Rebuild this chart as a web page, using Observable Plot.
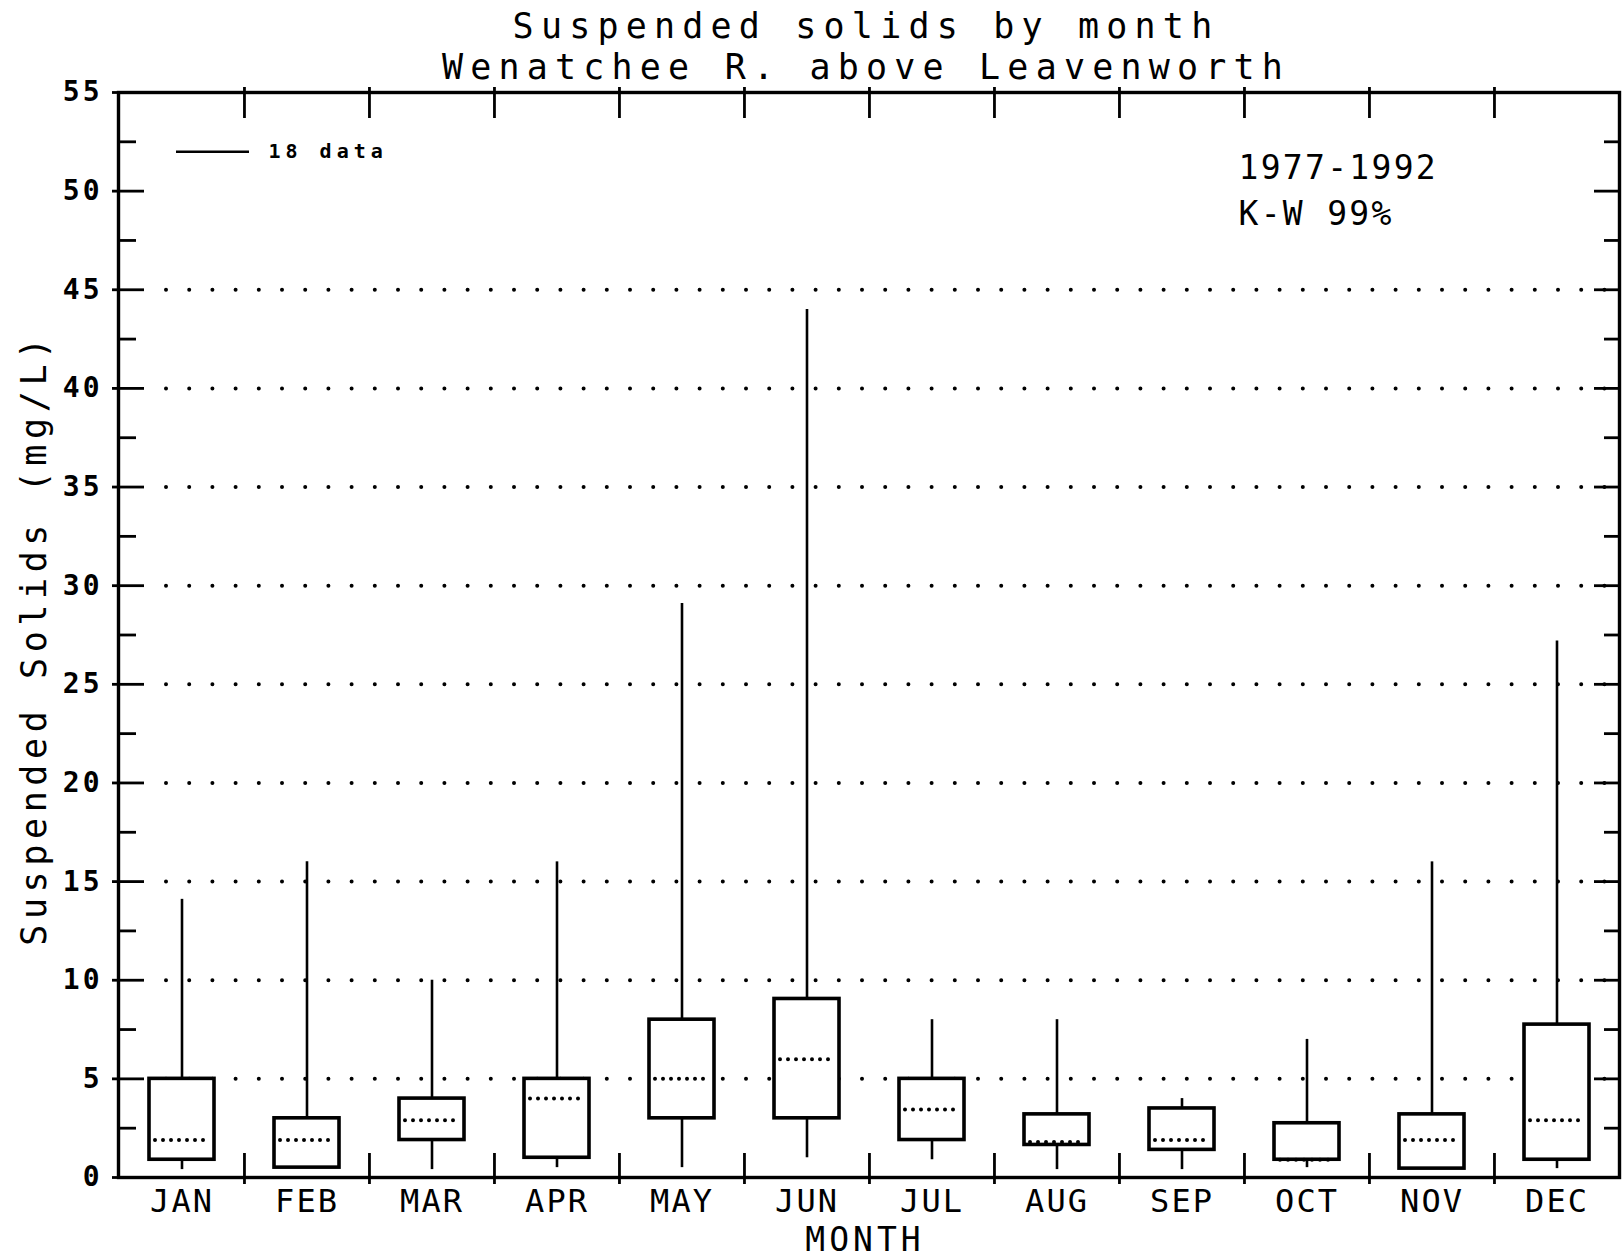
<!DOCTYPE html>
<html>
<head>
<meta charset="utf-8">
<script src="https://cdn.jsdelivr.net/npm/d3@7"></script>
<script src="https://cdn.jsdelivr.net/npm/@observablehq/plot@0.6"></script>
<style>
  html, body { margin: 0; padding: 0; background: #fff; }
</style>
</head>
<body>
<div id="chart"></div>
<script>
// ---- data ----
const months = ["JAN","FEB","MAR","APR","MAY","JUN","JUL","AUG","SEP","OCT","NOV","DEC"];
const whiskerMax = [14.1, 16, 10, 16, 29.1, 44, 8, 8, 4, 7, 16, 27.2];
const q3 =         [5, 3, 4, 5, 8, 9.05, 5, 3.2, 3.5, 2.75, 3.2, 7.75];
const medians =    [1.9, 1.9, 2.9, 4, 5, 6, 3.45, 1.8, 1.9, 0.9, 1.9, 2.9];
const q1 =         [0.9, 0.5, 1.9, 1.0, 3.0, 3.0, 1.9, 1.65, 1.4, 0.9, 0.45, 0.9];
const whiskerMin = [0.4, 0.5, 0.4, 0.5, 0.5, 1.0, 0.9, 0.4, 0.4, 0.5, 0.45, 0.45];
const majorTicks = [0, 5, 10, 15, 20, 25, 30, 35, 40, 45, 50, 55];
const minorTicks = [2.5, 7.5, 12.5, 17.5, 22.5, 27.5, 32.5, 37.5, 42.5, 47.5, 52.5];
const gridValues = [5, 10, 15, 20, 25, 30, 35, 40, 45];
const titleLines = ["Suspended solids by month", "Wenatchee R. above Leavenworth"];
const yLabel = "Suspended Solids (mg/L)";
const xLabel = "MONTH";
const legendLabel = "18 data";
const legendLevel = [52];
const notes = ["1977-1992", "K-W 99%"];

const data = months.map((m, i) => ({
  month: m, max: whiskerMax[i], q3: q3[i], median: medians[i], q1: q1[i], min: whiskerMin[i]
}));

// ---- layout ----
const W = 1622, H = 1259, mL = 118, mR = 3, mT = 92, mB = 82;
const plotW = W - mL - mR, plotH = H - mT - mB;
const bw = plotW / months.length;
const font = "'DejaVu Sans Mono', monospace";

const chart = Plot.plot({
  width: W, height: H,
  marginLeft: mL, marginRight: mR, marginTop: mT, marginBottom: mB,
  style: {fontFamily: font, background: "#fff", color: "#000"},
  x: {type: "band", domain: months, padding: 0},
  y: {domain: [0, 55]},
  marks: [
    // dotted gridlines
    Plot.ruleY(gridValues, {stroke: "#000", strokeWidth: 4, strokeLinecap: "round", strokeDasharray: "0 23.2", insetLeft: 48}),
    // whiskers
    Plot.ruleX(data, {x: "month", y1: "min", y2: "q1", stroke: "#000", strokeWidth: 2.6}),
    Plot.ruleX(data, {x: "month", y1: "q3", y2: "max", stroke: "#000", strokeWidth: 2.6}),
    // boxes
    Plot.barY(data, {x: "month", y1: "q1", y2: "q3", fill: "#fff", stroke: "#000", strokeWidth: 3.6, insetLeft: 30, insetRight: 30}),
    // medians (dotted)
    Plot.tickY(data, {x: "month", y: "median", stroke: "#000", strokeWidth: 4, strokeLinecap: "round", strokeDasharray: "0 8", insetLeft: 36, insetRight: 36}),
    // frame
    Plot.frame({stroke: "#000", strokeWidth: 3.4}),
    // left ticks
    Plot.ruleY(majorTicks, {stroke: "#000", strokeWidth: 2.8, insetLeft: -6, insetRight: plotW - 26}),
    Plot.ruleY(minorTicks, {stroke: "#000", strokeWidth: 2.8, insetRight: plotW - 18}),
    // right ticks
    Plot.ruleY(majorTicks, {stroke: "#000", strokeWidth: 2.8, insetLeft: plotW - 25}),
    Plot.ruleY(minorTicks, {stroke: "#000", strokeWidth: 2.8, insetLeft: plotW - 15}),
    // month boundary ticks (bottom & top)
    Plot.ruleX(months.slice(1), {x: d => d, dx: -bw / 2, stroke: "#000", strokeWidth: 2.8, insetTop: plotH - 24, insetBottom: -7}),
    Plot.ruleX(months.slice(1), {x: d => d, dx: -bw / 2, stroke: "#000", strokeWidth: 2.8, insetTop: -5, insetBottom: plotH - 26}),
    // axes
    Plot.axisY({ticks: majorTicks, tickSize: 0, tickPadding: 16, fontSize: 28, fontWeight: "bold", label: null, tickFormat: d => String(d)}),
    Plot.axisX({tickSize: 0, tickPadding: 12, fontSize: 32, label: null}),
    // axis labels
    Plot.text([yLabel], {text: d => d, frameAnchor: "left", textAnchor: "middle", lineAnchor: "middle", rotate: -90, dx: -84, dy: 4, fontSize: 35}),
    Plot.text([xLabel], {text: d => d, frameAnchor: "bottom", textAnchor: "middle", lineAnchor: "middle", dx: -4, dy: 63, fontSize: 33}),
    // title
    Plot.text([titleLines[0]], {text: d => d, frameAnchor: "top", textAnchor: "middle", lineAnchor: "middle", dx: -3, dy: -66, fontSize: 35}),
    Plot.text([titleLines[1]], {text: d => d, frameAnchor: "top", textAnchor: "middle", lineAnchor: "middle", dx: -3, dy: -25, fontSize: 35}),
    // legend
    Plot.ruleY(legendLevel, {stroke: "#000", strokeWidth: 2.4, insetLeft: 58, insetRight: plotW - 131}),
    Plot.text(legendLevel, {y: d => d, text: () => legendLabel, frameAnchor: "left", dx: 150, textAnchor: "start", lineAnchor: "middle", fontSize: 20, fontWeight: "bold"}),
    // notes
    Plot.text([notes[0]], {text: d => d, frameAnchor: "top-left", dx: 1120, dy: 76, textAnchor: "start", lineAnchor: "middle", fontSize: 33}),
    Plot.text([notes[1]], {text: d => d, frameAnchor: "top-left", dx: 1120, dy: 122, textAnchor: "start", lineAnchor: "middle", fontSize: 33})
  ]
});

// letter spacing to imitate the wide plotter lettering
const spacing = new Map([
  [titleLines[0], 7.2], [titleLines[1], 7.2], [yLabel, 5.6], [xLabel, 4],
  [legendLabel, 5], [notes[0], 2.3], [notes[1], 2.3]
]);
d3.select(chart).selectAll("text").each(function() {
  const t = this.textContent;
  if (spacing.has(t)) this.setAttribute("letter-spacing", spacing.get(t));
});
d3.select(chart).selectAll('g[aria-label="y-axis tick label"] text').attr("letter-spacing", 3);
d3.select(chart).selectAll('g[aria-label="x-axis tick label"] text').attr("letter-spacing", 2);

document.getElementById("chart").append(chart);
</script>
</body>
</html>
